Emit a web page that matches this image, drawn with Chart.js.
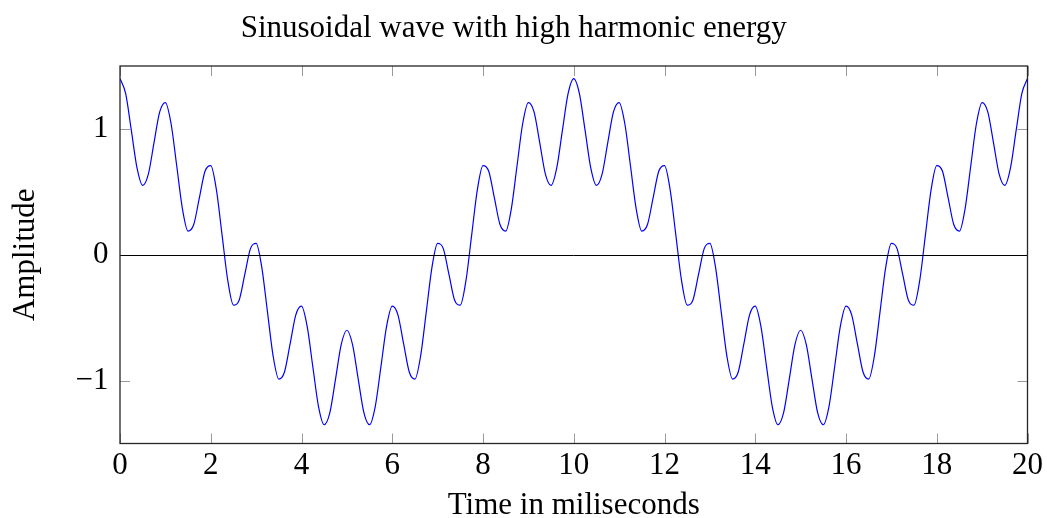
<!DOCTYPE html>
<html>
<head>
<meta charset="utf-8">
<script src="https://cdn.jsdelivr.net/npm/chart.js@4"></script>
<style>
  html, body { margin: 0; padding: 0; background: #ffffff; }
  #wrap { width: 1047px; height: 518px; }
</style>
</head>
<body>
<div id="wrap"><canvas id="c" width="1047" height="518"></canvas></div>
<script>
// ---- data ----
const chartTitle = "Sinusoidal wave with high harmonic energy";
const xTitle = "Time in miliseconds";
const yTitle = "Amplitude";

const xTickValues = [0, 2, 4, 6, 8, 10, 12, 14, 16, 18, 20];
const yTickValues = [-1, 0, 1];

const timeMs = [
  0, 0.125, 0.25, 0.375, 0.5, 0.625, 0.75, 0.875,
  1, 1.125, 1.25, 1.375, 1.5, 1.625, 1.75, 1.875,
  2, 2.125, 2.25, 2.375, 2.5, 2.625, 2.75, 2.875,
  3, 3.125, 3.25, 3.375, 3.5, 3.625, 3.75, 3.875,
  4, 4.125, 4.25, 4.375, 4.5, 4.625, 4.75, 4.875,
  5, 5.125, 5.25, 5.375, 5.5, 5.625, 5.75, 5.875,
  6, 6.125, 6.25, 6.375, 6.5, 6.625, 6.75, 6.875,
  7, 7.125, 7.25, 7.375, 7.5, 7.625, 7.75, 7.875,
  8, 8.125, 8.25, 8.375, 8.5, 8.625, 8.75, 8.875,
  9, 9.125, 9.25, 9.375, 9.5, 9.625, 9.75, 9.875,
  10, 10.125, 10.25, 10.375, 10.5, 10.625, 10.75, 10.875,
  11, 11.125, 11.25, 11.375, 11.5, 11.625, 11.75, 11.875,
  12, 12.125, 12.25, 12.375, 12.5, 12.625, 12.75, 12.875,
  13, 13.125, 13.25, 13.375, 13.5, 13.625, 13.75, 13.875,
  14, 14.125, 14.25, 14.375, 14.5, 14.625, 14.75, 14.875,
  15, 15.125, 15.25, 15.375, 15.5, 15.625, 15.75, 15.875,
  16, 16.125, 16.25, 16.375, 16.5, 16.625, 16.75, 16.875,
  17, 17.125, 17.25, 17.375, 17.5, 17.625, 17.75, 17.875,
  18, 18.125, 18.25, 18.375, 18.5, 18.625, 18.75, 18.875,
  19, 19.125, 19.25, 19.375, 19.5, 19.625, 19.75, 19.875,
  20
];

const amplitude = [
  1.400, 1.280, 0.988, 0.690, 0.551, 0.641, 0.891, 1.135,
  1.209, 1.043, 0.707, 0.367, 0.188, 0.240, 0.454, 0.665,
  0.709, 0.516, 0.156, -0.204, -0.400, -0.361, -0.156, 0.049,
  0.091, -0.100, -0.454, -0.805, -0.988, -0.932, -0.707, -0.478,
  -0.409, -0.570, -0.891, -1.207, -1.351, -1.255, -0.988, -0.714,
  -0.600, -0.714, -0.988, -1.255, -1.351, -1.207, -0.891, -0.570,
  -0.409, -0.478, -0.707, -0.932, -0.988, -0.805, -0.454, -0.100,
  0.091, 0.049, -0.156, -0.361, -0.400, -0.204, 0.156, 0.516,
  0.709, 0.665, 0.454, 0.240, 0.188, 0.367, 0.707, 1.043,
  1.209, 1.135, 0.891, 0.641, 0.551, 0.690, 0.988, 1.280,
  1.400, 1.280, 0.988, 0.690, 0.551, 0.641, 0.891, 1.135,
  1.209, 1.043, 0.707, 0.367, 0.188, 0.240, 0.454, 0.665,
  0.709, 0.516, 0.156, -0.204, -0.400, -0.361, -0.156, 0.049,
  0.091, -0.100, -0.454, -0.805, -0.988, -0.932, -0.707, -0.478,
  -0.409, -0.570, -0.891, -1.207, -1.351, -1.255, -0.988, -0.714,
  -0.600, -0.714, -0.988, -1.255, -1.351, -1.207, -0.891, -0.570,
  -0.409, -0.478, -0.707, -0.932, -0.988, -0.805, -0.454, -0.100,
  0.091, 0.049, -0.156, -0.361, -0.400, -0.204, 0.156, 0.516,
  0.709, 0.665, 0.454, 0.240, 0.188, 0.367, 0.707, 1.043,
  1.209, 1.135, 0.891, 0.641, 0.551, 0.690, 0.988, 1.280,
  1.400
];

// ---- styling ----
const FONT_FAMILY = "'Liberation Serif', 'Times New Roman', serif";
const FONT_SIZE = 31;

const points = timeMs.map((t, i) => ({ x: t, y: amplitude[i] }));

const frameTicksPlugin = {
  id: 'frameTicks',
  afterDatasetsDraw(chart) {
    const { ctx, chartArea: a, scales } = chart;
    const xs = scales.x, ys = scales.y;
    ctx.save();
    // inward tick marks
    const TL = 10;
    ctx.strokeStyle = '#9a9a9a';
    ctx.lineWidth = 1;
    ctx.beginPath();
    xTickValues.forEach(v => {
      const px = Math.round(xs.getPixelForValue(v)) + 0.5;
      ctx.moveTo(px, a.bottom); ctx.lineTo(px, a.bottom - TL);
      ctx.moveTo(px, a.top); ctx.lineTo(px, a.top + TL);
    });
    yTickValues.forEach(v => {
      const py = Math.round(ys.getPixelForValue(v)) + 0.5;
      ctx.moveTo(a.left, py); ctx.lineTo(a.left + TL, py);
      ctx.moveTo(a.right, py); ctx.lineTo(a.right - TL, py);
    });
    ctx.stroke();
    // zero line
    ctx.strokeStyle = '#000000';
    ctx.lineWidth = 1;
    const y0 = Math.round(ys.getPixelForValue(0)) + 0.5;
    ctx.beginPath();
    ctx.moveTo(a.left, y0);
    ctx.lineTo(a.right, y0);
    ctx.stroke();
    // frame
    ctx.strokeStyle = '#262626';
    ctx.lineWidth = 1.3;
    ctx.strokeRect(a.left, a.top, a.right - a.left, a.bottom - a.top);
    ctx.restore();
  }
};

new Chart(document.getElementById('c'), {
  type: 'line',
  data: {
    datasets: [{
      data: points,
      borderColor: '#0000ff',
      borderWidth: 1.2,
      pointRadius: 0,
      fill: false,
      cubicInterpolationMode: 'monotone'
    }]
  },
  options: {
    responsive: false,
    animation: false,
    layout: { padding: { left: 0, right: 19.5, top: 0, bottom: 0 } },
    plugins: {
      legend: { display: false },
      tooltip: { enabled: false },
      title: {
        display: true,
        text: chartTitle,
        color: '#000000',
        font: { family: FONT_FAMILY, size: FONT_SIZE, weight: 'normal' },
        padding: { top: 10, bottom: 18.8 }
      }
    },
    scales: {
      x: {
        type: 'linear',
        min: 0,
        max: 20,
        afterBuildTicks: s => { s.ticks = xTickValues.map(v => ({ value: v })); },
        afterFit: s => { s.height = 74.5; },
        grid: { display: false },
        border: { display: false },
        ticks: {
          color: '#000000',
          font: { family: FONT_FAMILY, size: FONT_SIZE },
          padding: -4,
          maxRotation: 0,
          autoSkip: false
        },
        title: {
          display: true,
          text: xTitle,
          color: '#000000',
          font: { family: FONT_FAMILY, size: FONT_SIZE },
          padding: { top: 0, bottom: -6.5 }
        }
      },
      y: {
        type: 'linear',
        min: -1.5,
        max: 1.5,
        afterBuildTicks: s => { s.ticks = yTickValues.map(v => ({ value: v })); },
        afterFit: s => { s.width = 120; },
        grid: { display: false },
        border: { display: false },
        ticks: {
          color: '#000000',
          font: { family: FONT_FAMILY, size: FONT_SIZE },
          padding: 3.5,
          callback: v => (v < 0 ? '\u2212' + Math.abs(v) : String(v))
        },
        title: {
          display: true,
          text: yTitle,
          color: '#000000',
          font: { family: FONT_FAMILY, size: FONT_SIZE },
          padding: { top: 7, bottom: 0 }
        }
      }
    }
  },
  plugins: [frameTicksPlugin]
});
</script>
</body>
</html>
